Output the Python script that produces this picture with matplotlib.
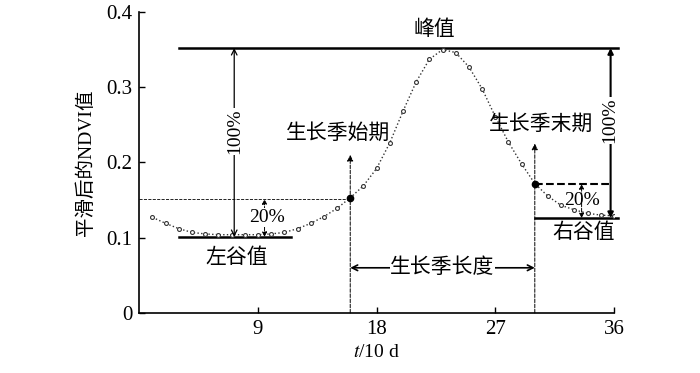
import numpy as np
import matplotlib
matplotlib.use('Agg')
import matplotlib.pyplot as plt

plt.rcParams['font.family'] = ['Liberation Serif', 'Noto Sans CJK SC']
plt.rcParams['mathtext.fontset'] = 'stix'

# smoothed NDVI, one value per 10-day period
t = np.arange(1, 37)
ndvi = [0.127, 0.119, 0.112, 0.107, 0.105, 0.104, 0.104, 0.104, 0.104, 0.105,
        0.107, 0.112, 0.119, 0.128, 0.139, 0.153, 0.169, 0.192, 0.226, 0.268,
        0.307, 0.337, 0.350, 0.346, 0.327, 0.298, 0.261, 0.227, 0.198, 0.172,
        0.155, 0.143, 0.137, 0.1325, 0.130, 0.129]

peak_value = 0.352
left_valley = 0.101
right_valley = 0.126
sos_t = 16
eos_t = 30
sos_value = left_valley + 0.2 * (peak_value - left_valley)
eos_value = right_valley + 0.2 * (peak_value - right_valley)
x_ticks = [9, 18, 27, 36]
y_ticks = [0, 0.1, 0.2, 0.3, 0.4]

fig = plt.figure(figsize=(7, 3.73), dpi=100)
ax = fig.add_axes([0.199, 0.161, 0.678, 0.807])

# curve
ax.plot(t, ndvi, ':', color='#333333', lw=1.0, marker='o', ms=2.8,
        mfc='white', mec='#333333', mew=0.8, zorder=3)
ax.plot([sos_t, eos_t], [ndvi[sos_t - 1], ndvi[eos_t - 1]], 'o',
        color='black', ms=4.5, zorder=4)

# peak and valley lines
ax.plot([3, 36.3], [peak_value, peak_value], color='black', lw=1.8, clip_on=False)
ax.plot([3, 11.5], [left_valley, left_valley], color='black', lw=1.8)
ax.plot([eos_t, 36.3], [right_valley, right_valley], color='black', lw=1.8, clip_on=False)

# 20% thresholds
ax.plot([0, sos_t], [sos_value, sos_value], '--', color='black', lw=0.6)
ax.plot([eos_t, 35.75], [eos_value, eos_value], '--', color='black', lw=1.5)

# start / end of season
ax.annotate('', xy=(sos_t, 0.21), xytext=(sos_t, 0),
            arrowprops=dict(arrowstyle='-|>', ls='--', lw=0.7, color='black',
                            mutation_scale=9, shrinkA=0, shrinkB=0))
ax.annotate('', xy=(eos_t, 0.225), xytext=(eos_t, 0),
            arrowprops=dict(arrowstyle='-|>', ls='--', lw=0.7, color='black',
                            mutation_scale=9, shrinkA=0, shrinkB=0))

# 100% arrows
ax.annotate('', xy=(7.2, peak_value), xytext=(7.2, left_valley),
            arrowprops=dict(arrowstyle='<->', lw=0.9, color='black',
                            shrinkA=0, shrinkB=0))
ax.annotate('', xy=(35.75, peak_value), xytext=(35.75, right_valley),
            arrowprops=dict(arrowstyle='<|-|>', lw=1.5, color='black',
                            mutation_scale=8, shrinkA=0, shrinkB=0))

# 20% arrows
ax.annotate('', xy=(9.5, sos_value), xytext=(9.5, left_valley),
            arrowprops=dict(arrowstyle='<|-|>', ls='--', lw=0.7, color='black',
                            mutation_scale=7, shrinkA=0, shrinkB=0))
ax.annotate('', xy=(33.55, eos_value), xytext=(33.55, right_valley),
            arrowprops=dict(arrowstyle='<|-|>', ls='--', lw=0.7, color='black',
                            mutation_scale=7, shrinkA=0, shrinkB=0))

# season length
ax.annotate('', xy=(sos_t, 0.06), xytext=(eos_t, 0.06),
            arrowprops=dict(arrowstyle='<->', lw=1.2, color='black',
                            shrinkA=0, shrinkB=0))

box = dict(facecolor='white', edgecolor='none', pad=0.5)
fs = 15
ax.text(22.4, 0.376, '峰值', ha='center', va='center', fontsize=fs)
ax.text(15.1, 0.238, '生长季始期', ha='center', va='center', fontsize=fs)
ax.text(30.5, 0.250, '生长季末期', ha='center', va='center', fontsize=fs)
ax.text(7.4, 0.073, '左谷值', ha='center', va='center', fontsize=fs)
ax.text(33.7, 0.106, '右谷值', ha='center', va='center', fontsize=fs)
ax.text(23, 0.06, '生长季长度', ha='center', va='center', fontsize=fs, bbox=box)
ax.text(9.7, 0.127, '20%', ha='center', va='center', fontsize=14, bbox=box)
ax.text(33.6, 0.149, '20%', ha='center', va='center', fontsize=14)
ax.text(7.25, 0.241, '100%', ha='center', va='center', fontsize=14,
        rotation=90, bbox=box)
ax.text(35.72, 0.256, '100%', ha='center', va='center', fontsize=14,
        rotation=90, bbox=box)

ax.set_xlim(0, 36)
ax.set_ylim(0, 0.4)
ax.set_xticks(x_ticks)
ax.set_yticks(y_ticks)
ax.set_yticklabels(['0', '0.1', '0.2', '0.3', '0.4'])
ax.tick_params(direction='in', labelsize=15, length=4, width=1, pad=5)
ax.spines['top'].set_visible(False)
ax.spines['right'].set_visible(False)
ax.spines['left'].set_linewidth(1.2)
ax.spines['bottom'].set_linewidth(1.2)
ax.set_xlabel('$t$/10 d', fontsize=14, labelpad=4)
ax.set_ylabel('平滑后的NDVI值', fontsize=14, labelpad=8)

fig.savefig('out.png', dpi=100)
